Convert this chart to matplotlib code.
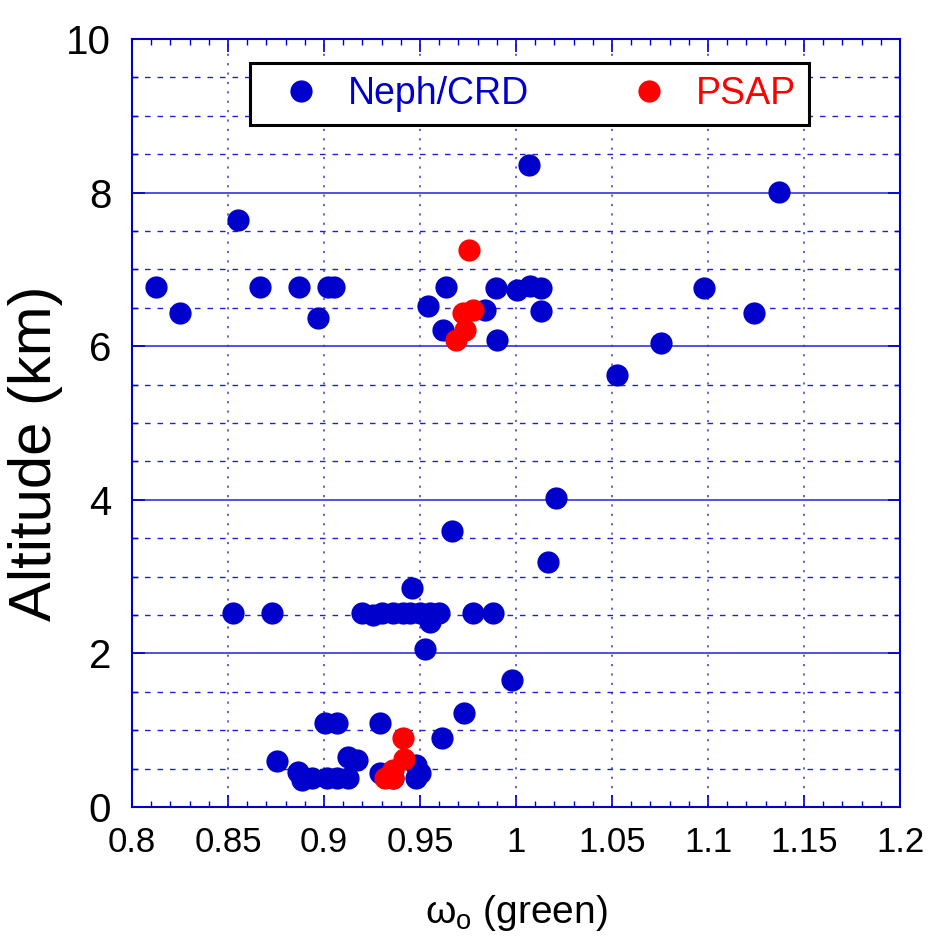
import matplotlib
matplotlib.use("Agg")
import matplotlib.pyplot as plt
from matplotlib.ticker import MultipleLocator, FixedFormatter, FixedLocator

plt.rcParams['font.family'] = ['Liberation Sans', 'DejaVu Sans']

# Neph/CRD single scattering albedo vs altitude
neph_w = [0.8125, 0.825, 0.855, 0.8667, 0.887, 0.902, 0.905, 0.897,
          0.9635, 0.954, 0.962, 0.984, 0.990, 0.9896, 1.0005, 1.0073, 1.013, 1.013,
          1.0068, 1.137, 1.098, 1.124, 1.0755, 1.0526, 1.021, 1.0167, 0.9667,
          0.8526, 0.873, 0.920, 0.9255, 0.930, 0.936, 0.941, 0.945, 0.9458, 0.950,
          0.9552, 0.955, 0.960, 0.9526, 0.9776, 0.988,
          0.998, 0.973, 0.9615,
          0.9005, 0.907, 0.929, 0.8755, 0.8865, 0.8885, 0.894, 0.9016, 0.907,
          0.9125, 0.9125, 0.917, 0.929, 0.936, 0.948, 0.950, 0.948]
neph_alt = [6.77, 6.43, 7.64, 6.77, 6.77, 6.77, 6.77, 6.37,
            6.77, 6.52, 6.21, 6.47, 6.08, 6.76, 6.73, 6.78, 6.76, 6.46,
            8.36, 8.01, 6.76, 6.43, 6.04, 5.63, 4.02, 3.19, 3.59,
            2.53, 2.53, 2.53, 2.50, 2.53, 2.53, 2.52, 2.53, 2.85, 2.53,
            2.41, 2.53, 2.53, 2.06, 2.53, 2.53,
            1.65, 1.22, 0.90,
            1.09, 1.09, 1.09, 0.60, 0.46, 0.35, 0.38, 0.38, 0.38,
            0.38, 0.65, 0.61, 0.44, 0.38, 0.55, 0.44, 0.38]

# PSAP
psap_w = [0.9755, 0.9776, 0.9724, 0.9734, 0.969, 0.941, 0.9417, 0.936, 0.932, 0.936]
psap_alt = [7.25, 6.47, 6.43, 6.21, 6.08, 0.90, 0.62, 0.48, 0.38, 0.38]

xticks = [0.8, 0.85, 0.9, 0.95, 1.0, 1.05, 1.1, 1.15, 1.2]
xlabels = ['0.8', '0.85', '0.9', '0.95', '1', '1.05', '1.1', '1.15', '1.2']
yticks = [0, 2, 4, 6, 8, 10]

blue = '#0000CC'
red = '#FF0000'

fig = plt.figure(figsize=(9.32, 9.38), dpi=100)
ax = fig.add_axes([0.1416, 0.1397, 0.8241, 0.8187])

ax.plot(neph_w, neph_alt, 'o', color=blue, markersize=16, markeredgewidth=0,
        label='Neph/CRD', zorder=3)
ax.plot(psap_w, psap_alt, 'o', color=red, markersize=16, markeredgewidth=0,
        label='PSAP', zorder=4)

ax.set_xlim(0.8, 1.2)
ax.set_ylim(0, 10)
ax.xaxis.set_major_locator(FixedLocator(xticks))
ax.xaxis.set_major_formatter(FixedFormatter(xlabels))
ax.xaxis.set_minor_locator(MultipleLocator(0.01))
ax.yaxis.set_major_locator(FixedLocator(yticks))
ax.yaxis.set_minor_locator(MultipleLocator(0.5))

# grid: solid every 2 km, dashed every 0.5 km, dotted every 0.05
ax.grid(which='major', axis='y', linestyle='-', color='#3333DD', linewidth=1.2, zorder=1)
ax.grid(which='minor', axis='y', linestyle=(0, (4, 5)), color='#2222CC', linewidth=1.0, zorder=1)
ax.grid(which='major', axis='x', linestyle=(0, (1.2, 4)), color='#5555DD', linewidth=1.3, zorder=1)
ax.set_axisbelow(True)

for s in ax.spines.values():
    s.set_color(blue)
    s.set_linewidth(1.5)

ax.tick_params(which='both', direction='in', top=True, right=True, color=blue)
ax.tick_params(which='major', length=9, width=1.2)
ax.tick_params(which='minor', length=4.5, width=1.0)
ax.tick_params(axis='x', which='major', labelsize=25, pad=14)
ax.tick_params(axis='y', which='major', labelsize=29, pad=15)

ax.set_xlabel(r'$\mathregular{\omega_o}$ (green)', fontsize=28, labelpad=24)
ax.set_ylabel('Altitude (km)', fontsize=43)
ax.yaxis.set_label_coords(-0.09, 0.46)

leg = ax.legend(loc='lower left', bbox_to_anchor=(0.1536, 0.888, 0.728, 0.0886),
                mode='expand', ncol=2, fontsize=27, frameon=True, fancybox=False,
                edgecolor='black', framealpha=1, borderaxespad=0,
                handletextpad=0.25, borderpad=0.35, markerscale=1.0)
leg.get_frame().set_linewidth(2.2)
leg.set_zorder(5)
for t, c in zip(leg.get_texts(), [blue, red]):
    t.set_color(c)

fig.savefig('out.png', dpi=100)
